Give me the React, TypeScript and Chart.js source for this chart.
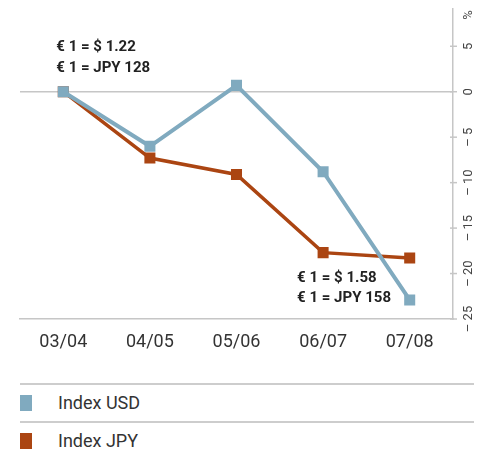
import React, { useEffect, useRef } from "react";
import { Chart, registerables } from "chart.js";

Chart.register(...registerables);

// Seasons on the category axis
const seasons = ["03/04", "04/05", "05/06", "06/07", "07/08"];

// Change in % against the 03/04 base
const indexUsd = [0, -6.0, 0.7, -8.8, -22.9];
const indexJpy = [0, -7.3, -9.1, -17.7, -18.3];

// Right-hand value axis
const yTickValues = [5, 0, -5, -10, -15, -20, -25];
const yUnit = "%";
const yMin = -25;
const yMax = 9.1;

// Exchange-rate notes at the start and the end of the period
const startRates = ["€ 1 = $ 1.22", "€ 1 = JPY 128"];
const endRates = ["€ 1 = $ 1.58", "€ 1 = JPY 158"];

const legendLabels = ["Index USD", "Index JPY"];

const USD_COLOR = "#80aabf";
const JPY_COLOR = "#ab4512";
const RULE = "#c6c6c6";
const TEXT = "#333333";
const FONT = "Roboto, 'Liberation Sans', Arial, sans-serif";

const CANVAS_W = 479;
const CANVAS_H = 370;

const formatTick = (v: number) => (v < 0 ? "\u2013 " + Math.abs(v) : String(v));

const overlayPlugin = {
  id: "overlay",
  afterDraw(chart: any) {
    const { ctx, chartArea, scales } = chart;
    const y = scales.y;
    const x = scales.x;
    ctx.save();

    // tick marks crossing the right axis, with rotated labels
    ctx.strokeStyle = RULE;
    ctx.lineWidth = 1.5;
    ctx.fillStyle = "#444444";
    ctx.font = `13px ${FONT}`;
    ctx.textAlign = "center";
    ctx.textBaseline = "middle";
    yTickValues.forEach((v) => {
      const py = y.getPixelForValue(v);
      ctx.beginPath();
      ctx.moveTo(chartArea.right - 3, py);
      ctx.lineTo(chartArea.right + 4, py);
      ctx.stroke();
      ctx.save();
      ctx.translate(chartArea.right + 16, py);
      ctx.rotate(-Math.PI / 2);
      ctx.fillText(formatTick(v), 0, 0);
      ctx.restore();
    });
    ctx.save();
    ctx.translate(chartArea.right + 16, chartArea.top + 6);
    ctx.rotate(-Math.PI / 2);
    ctx.fillText(yUnit, 0, 0);
    ctx.restore();

    // exchange-rate notes
    ctx.fillStyle = "#222222";
    ctx.font = `bold 15px ${FONT}`;
    ctx.textAlign = "left";
    const sx = x.getPixelForValue(0) - 7;
    const sy = y.getPixelForValue(0);
    ctx.fillText(startRates[0], sx, sy - 44);
    ctx.fillText(startRates[1], sx, sy - 23);
    const ex = x.getPixelForValue(3) - 26;
    const ey = y.getPixelForValue(-20);
    ctx.fillText(endRates[0], ex, ey + 5);
    ctx.fillText(endRates[1], ex, ey + 25);

    ctx.restore();
  },
};

function RateChart() {
  const ref = useRef<HTMLCanvasElement | null>(null);

  useEffect(() => {
    if (!ref.current) return;
    const chart = new Chart(ref.current, {
      type: "line",
      data: {
        labels: seasons,
        datasets: [
          {
            label: legendLabels[0],
            data: indexUsd,
            borderColor: USD_COLOR,
            backgroundColor: USD_COLOR,
            borderWidth: 4,
            pointStyle: "rect",
            pointRadius: 7.8,
            pointHoverRadius: 7.8,
            pointBorderWidth: 0,
            tension: 0,
          },
          {
            label: legendLabels[1],
            data: indexJpy,
            borderColor: JPY_COLOR,
            backgroundColor: JPY_COLOR,
            borderWidth: 3.5,
            pointStyle: "rect",
            pointRadius: 7.8,
            pointHoverRadius: 7.8,
            pointBorderWidth: 0,
            tension: 0,
          },
        ],
      },
      options: {
        responsive: false,
        animation: false,
        devicePixelRatio: 1,
        layout: { padding: { left: 20, top: 9, right: 0, bottom: 0 } },
        plugins: {
          legend: { display: false },
          tooltip: { enabled: false },
        },
        scales: {
          x: {
            type: "category",
            offset: true,
            grid: { display: false, drawTicks: false },
            border: { display: true, color: RULE, width: 1.5 },
            ticks: {
              color: TEXT,
              font: { family: FONT, size: 18 },
              padding: 13,
              maxRotation: 0,
            },
            afterFit(scale: any) {
              scale.height = 51;
            },
          },
          y: {
            position: "right",
            min: yMin,
            max: yMax,
            afterBuildTicks(scale: any) {
              scale.ticks = yTickValues.map((v) => ({ value: v }));
            },
            grid: {
              drawTicks: false,
              lineWidth: 1.5,
              color: (c: any) => (c.tick && c.tick.value === 0 ? RULE : "rgba(0,0,0,0)"),
            },
            border: { display: true, color: RULE, width: 1.5 },
            ticks: { display: false },
            afterFit(scale: any) {
              scale.width = 26;
            },
          },
        },
      },
      plugins: [overlayPlugin],
    });
    return () => chart.destroy();
  }, []);

  return <canvas ref={ref} width={CANVAS_W} height={CANVAS_H} style={{ display: "block" }} />;
}

const legendColors = [USD_COLOR, JPY_COLOR];

export default function App() {
  return (
    <div
      style={{
        position: "absolute",
        left: 0,
        top: 0,
        width: 479,
        height: 454,
        background: "#ffffff",
        fontFamily: FONT,
      }}
    >
      <RateChart />
      {legendLabels.map((label, i) => (
        <React.Fragment key={label}>
          <div
            style={{
              position: "absolute",
              left: 20,
              top: 383 + i * 38,
              width: 454,
              height: 2,
              background: "#cdcdcd",
            }}
          />
          <div
            style={{
              position: "absolute",
              left: 20,
              top: 395 + i * 38,
              width: 12,
              height: 16,
              background: legendColors[i],
            }}
          />
          <div
            style={{
              position: "absolute",
              left: 58,
              top: 393 + i * 38,
              lineHeight: "20px",
              fontSize: 18,
              color: TEXT,
              whiteSpace: "nowrap",
            }}
          >
            {label}
          </div>
        </React.Fragment>
      ))}
    </div>
  );
}
